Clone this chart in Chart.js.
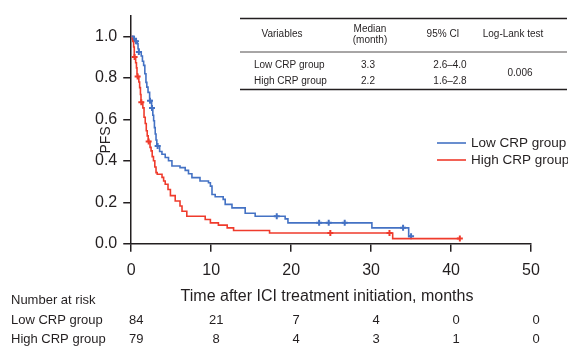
<!DOCTYPE html>
<html>
<head>
<meta charset="utf-8">
<script src="https://cdn.jsdelivr.net/npm/chart.js@4.4.1/dist/chart.umd.min.js"></script>
<style>
  html, body { margin: 0; padding: 0; background: #fff; }
  #wrap { width: 568px; height: 346px; }
</style>
</head>
<body>
<div id="wrap"><canvas id="pfsChart" width="568" height="346"></canvas></div>
<script>
// Kaplan-Meier steps (months, PFS)
const lowTimes = [0, 0.3, 0.5, 0.75, 0.85, 0.95, 1.25, 1.4, 1.55, 1.7, 1.84, 1.95, 2.1, 2.3, 2.55, 2.7, 2.8, 2.9, 3.0, 3.1, 3.2, 3.55, 3.84, 4.25, 4.66, 5.09, 6.1, 6.75, 7.16, 7.59, 8.6, 9.66, 9.9, 10.1, 10.5, 11.5, 11.75, 12.6, 14.25, 15.5, 19.25, 19.6, 30.1, 34.7, 35.0];
const lowSurv  = [1.0, 0.988, 0.976, 0.964, 0.94, 0.925, 0.905, 0.88, 0.86, 0.82, 0.778, 0.755, 0.73, 0.69, 0.655, 0.62, 0.593, 0.56, 0.529, 0.5, 0.472, 0.445, 0.432, 0.416, 0.4, 0.375, 0.367, 0.354, 0.338, 0.319, 0.303, 0.294, 0.278, 0.238, 0.227, 0.214, 0.19, 0.173, 0.147, 0.133, 0.12, 0.101, 0.077, 0.036, 0.036];
const lowCensT = [0.35, 0.6, 0.95, 2.35, 2.6, 3.3, 18.2, 23.5, 24.7, 26.7, 34.0, 35.0];
const lowCensS = [0.988, 0.976, 0.925, 0.69, 0.655, 0.472, 0.133, 0.101, 0.101, 0.101, 0.077, 0.036];

const highTimes = [0, 0.1, 0.2, 0.3, 0.38, 0.55, 0.65, 0.72, 0.76, 0.95, 1.05, 1.15, 1.22, 1.45, 1.6, 1.75, 1.88, 2.0, 2.12, 2.35, 2.48, 2.62, 2.78, 2.95, 3.1, 3.25, 3.85, 4.05, 4.25, 4.6, 4.9, 5.5, 6.1, 6.35, 6.95, 9.25, 9.9, 10.9, 12.0, 12.8, 17.3, 32.7, 41.1];
const highSurv  = [1.0, 0.987, 0.975, 0.949, 0.9, 0.873, 0.848, 0.82, 0.806, 0.78, 0.753, 0.72, 0.682, 0.655, 0.61, 0.58, 0.545, 0.52, 0.493, 0.465, 0.448, 0.42, 0.4, 0.37, 0.343, 0.335, 0.32, 0.303, 0.287, 0.262, 0.232, 0.206, 0.182, 0.157, 0.133, 0.117, 0.101, 0.09, 0.077, 0.064, 0.052, 0.025, 0.025];
const highCensT = [0.42, 0.8, 1.26, 2.18, 24.9, 32.3, 41.1];
const highCensS = [0.9, 0.806, 0.682, 0.493, 0.052, 0.052, 0.025];

const groups = ['Low CRP group', 'High CRP group'];
const riskTimes = [0, 10, 20, 30, 40, 50];
const lowRisk = [84, 21, 7, 4, 0, 0];
const highRisk = [79, 8, 4, 3, 1, 0];

const tableHead = ['Variables', 'Median\n(month)', '95% CI', 'Log-Lank test'];
const medians = ['3.3', '2.2'];
const cis = ['2.6\u20134.0', '1.6\u20132.8'];
const logRankP = '0.006';

const blue = '#4472c4';
const red = '#ef3b2c';
const ink = '#231f20';
const FONT = '"Liberation Sans", Arial, Helvetica, sans-serif';

function pts(xs, ys) {
    return xs.map((x, i) => ({x: x, y: ys[i]}));
}

const textPlugin = {
    id: 'kmText',
    afterDraw(chart) {
        const ctx = chart.ctx;
        const xs = chart.scales.x;
        ctx.save();
        ctx.fillStyle = ink;
        ctx.textBaseline = 'middle';

        // y axis title
        ctx.save();
        ctx.translate(106, 140);
        ctx.rotate(-Math.PI / 2);
        ctx.font = '14px ' + FONT;
        ctx.textAlign = 'center';
        ctx.fillText('PFS', 0, 0);
        ctx.restore();

        // x axis title
        ctx.font = '16px ' + FONT;
        ctx.textAlign = 'center';
        ctx.fillText('Time after ICI treatment initiation, months', 327, 297);

        // number at risk
        ctx.font = '13px ' + FONT;
        ctx.textAlign = 'left';
        ctx.fillText('Number at risk', 11, 300);
        ctx.fillText(groups[0], 11, 320);
        ctx.fillText(groups[1], 11, 339);
        ctx.textAlign = 'center';
        riskTimes.forEach((t, i) => {
            const px = xs.getPixelForValue(t) + 5;
            ctx.fillText(String(lowRisk[i]), px, 320);
            ctx.fillText(String(highRisk[i]), px, 339);
        });

        // legend
        const legY = [143, 160];
        [blue, red].forEach((c, i) => {
            ctx.strokeStyle = c;
            ctx.lineWidth = 1.6;
            ctx.beginPath();
            ctx.moveTo(437, legY[i]);
            ctx.lineTo(466, legY[i]);
            ctx.stroke();
            ctx.font = '13.5px ' + FONT;
            ctx.textAlign = 'left';
            ctx.fillText(groups[i], 471, legY[i]);
        });

        // summary table
        ctx.strokeStyle = ink;
        ctx.lineWidth = 1.5;
        ctx.beginPath();
        ctx.moveTo(240, 18.5); ctx.lineTo(567, 18.5);
        ctx.moveTo(240, 89.5); ctx.lineTo(567, 89.5);
        ctx.stroke();
        ctx.lineWidth = 0.8;
        ctx.beginPath();
        ctx.moveTo(240, 52); ctx.lineTo(567, 52);
        ctx.stroke();

        ctx.font = '10px ' + FONT;
        ctx.textAlign = 'center';
        const headX = [282, 370, 443, 513];
        tableHead.forEach((h, i) => {
            const lines = h.split('\n');
            if (lines.length === 1) {
                ctx.fillText(h, headX[i], 34);
            } else {
                ctx.fillText(lines[0], headX[i], 29);
                ctx.fillText(lines[1], headX[i], 40);
            }
        });
        const rowY = [65, 81];
        groups.forEach((g, i) => {
            ctx.textAlign = 'left';
            ctx.fillText(g, 254, rowY[i]);
            ctx.textAlign = 'center';
            ctx.fillText(medians[i], 368, rowY[i]);
            ctx.fillText(cis[i], 450, rowY[i]);
        });
        ctx.fillText(logRankP, 520, 73);
        ctx.restore();
    }
};

new Chart(document.getElementById('pfsChart'), {
    type: 'line',
    data: {
        datasets: [
            {
                label: groups[0],
                data: pts(lowTimes, lowSurv),
                borderColor: blue,
                borderWidth: 1.6,
                stepped: true,
                pointRadius: 0,
                fill: false
            },
            {
                label: groups[1],
                data: pts(highTimes, highSurv),
                borderColor: red,
                borderWidth: 1.6,
                stepped: true,
                pointRadius: 0,
                fill: false
            },
            {
                label: 'low censored',
                data: pts(lowCensT, lowCensS),
                showLine: false,
                pointStyle: 'cross',
                pointRadius: 3,
                pointBorderWidth: 2,
                borderColor: blue
            },
            {
                label: 'high censored',
                data: pts(highCensT, highCensS),
                showLine: false,
                pointStyle: 'cross',
                pointRadius: 3,
                pointBorderWidth: 2,
                borderColor: red
            }
        ]
    },
    options: {
        responsive: false,
        animation: false,
        devicePixelRatio: 1,
        layout: { padding: { left: 89, right: 37, top: 15, bottom: 57 } },
        plugins: {
            legend: { display: false },
            tooltip: { enabled: false }
        },
        scales: {
            x: {
                type: 'linear',
                min: 0,
                max: 50,
                ticks: {
                    stepSize: 10,
                    padding: 9,
                    color: ink,
                    font: { size: 16, family: FONT }
                },
                grid: { drawOnChartArea: false, tickLength: 8, color: ink, lineWidth: 1.5 },
                border: { color: ink, width: 1.5 }
            },
            y: {
                min: 0,
                max: 1.1,
                afterBuildTicks: (scale) => {
                    scale.ticks = scale.ticks.filter(t => t.value <= 1.0001);
                },
                ticks: {
                    stepSize: 0.2,
                    padding: 6,
                    color: ink,
                    font: { size: 16, family: FONT },
                    callback: (v) => v.toFixed(1)
                },
                grid: { drawOnChartArea: false, tickLength: 8, color: ink, lineWidth: 1.5 },
                border: { color: ink, width: 1.5 }
            }
        }
    },
    plugins: [textPlugin]
});
</script>
</body>
</html>
